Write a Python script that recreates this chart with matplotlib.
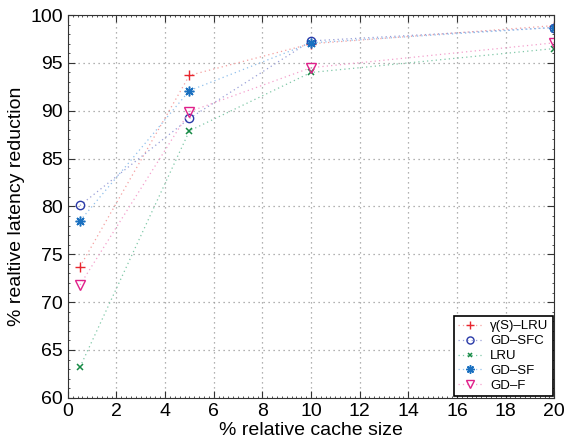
import numpy as np
import matplotlib
matplotlib.use('Agg')
import matplotlib.pyplot as plt
from matplotlib.ticker import AutoMinorLocator

plt.rcParams['font.family'] = ['Liberation Sans', 'DejaVu Sans']

# cache sizes (%)
cache_size = [0.5, 5, 10, 20]

# latency reduction (%) per policy
gamma_lru = [73.7, 93.7, 97.0, 98.9]
gd_sfc = [80.1, 89.2, 97.3, 98.7]
lru = [63.2, 87.9, 94.0, 96.5]
gd_sf = [78.5, 92.1, 97.1, 98.7]
gd_f = [71.8, 89.9, 94.5, 97.1]

labels = ['γ(S)–LRU', 'GD–SFC', 'LRU', 'GD–SF', 'GD–F']

dots = (0, (1, 2.5))

fig = plt.figure(figsize=(5.65, 4.43), dpi=100)
ax = fig.add_axes([0.120, 0.102, 0.861, 0.864])

ax.plot(cache_size, gamma_lru, linestyle=dots, lw=0.9, color='#f4a0a0', marker='+',
        mec='#e8262e', ms=7, mew=1.0, label=labels[0])
ax.plot(cache_size, gd_sfc, linestyle=dots, lw=0.9, color='#9aa0d8', marker='o',
        mec='#2a3aa8', mfc='none', ms=6, mew=1.0, label=labels[1])
ax.plot(cache_size, lru, linestyle=dots, lw=0.9, color='#80c8a8', marker='x',
        mec='#178a45', ms=4, mew=1.1, label=labels[2])
ax.plot(cache_size, gd_sf, linestyle=dots, lw=0.9, color='#90c0ec', marker=(8, 2, 0),
        mec='#1a70c0', ms=7, mew=1.1, label=labels[3])
ax.plot(cache_size, gd_f, linestyle=dots, lw=0.9, color='#f4a0cc', marker='v',
        mec='#e0208a', mfc='none', ms=7, mew=1.0, label=labels[4])

ax.set_xlim(0, 20)
ax.set_ylim(60, 100)
ax.set_xticks(np.arange(0, 21, 2))
ax.set_yticks(np.arange(60, 101, 5))
ax.xaxis.set_minor_locator(AutoMinorLocator(10))
ax.yaxis.set_minor_locator(AutoMinorLocator(5))
ax.tick_params(which='both', direction='in', top=True, right=True, labelsize=14,
               color='#333333')
ax.tick_params(which='major', length=5)
ax.tick_params(which='minor', length=1.5)
ax.grid(True, linestyle=(0, (1, 3)), color='#999999', linewidth=0.9)
for s in ax.spines.values():
    s.set_color('#333333')

ax.set_xlabel('% relative cache size', fontsize=14, labelpad=2)
ax.set_ylabel('% realtive latency reduction', fontsize=14, labelpad=4)

leg = ax.legend(loc='lower right', fontsize=9.5, fancybox=False, framealpha=1,
                edgecolor='black', handlelength=1.8, borderaxespad=0.1,
                labelspacing=0.2, handletextpad=0.6, markerscale=0.85,
                borderpad=0.35)
leg.get_frame().set_linewidth(1.2)

fig.savefig('out.png')
